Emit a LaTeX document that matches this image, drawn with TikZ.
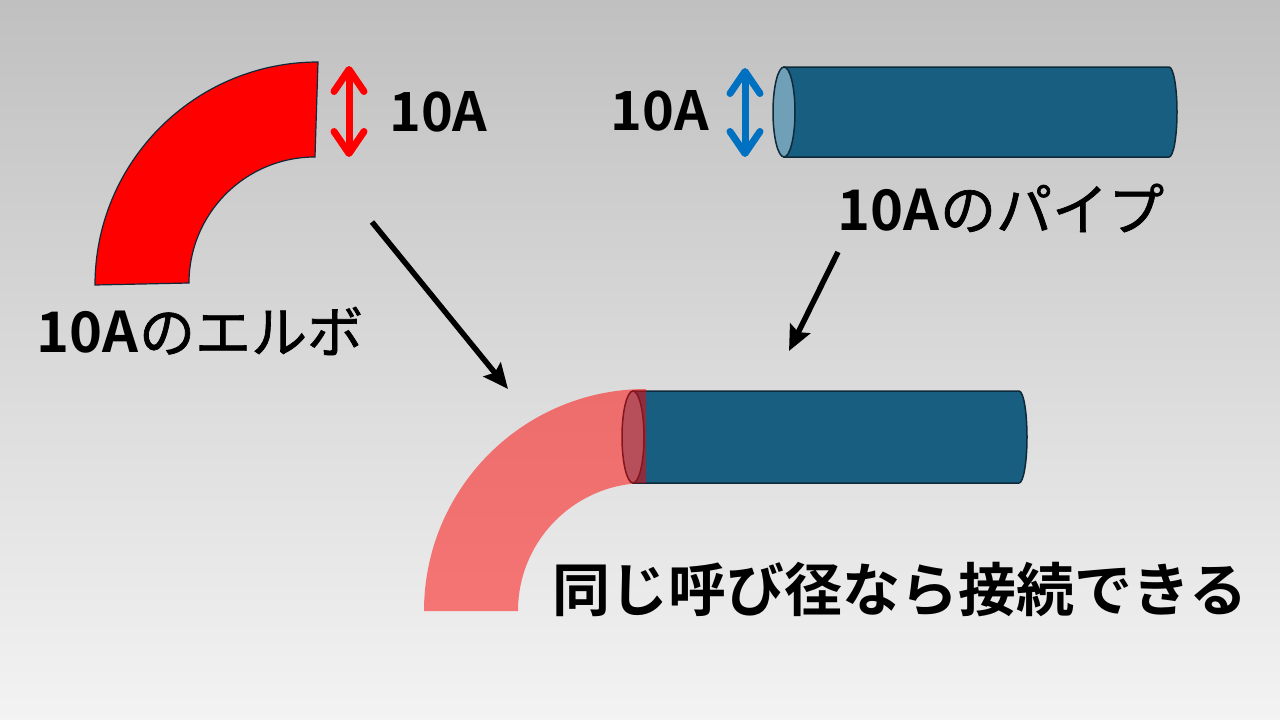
\documentclass[tikz,border=0pt]{standalone}
\usepackage{fontspec}
\setmainfont{Noto Sans CJK JP}[BoldFont={Noto Sans CJK JP Bold}]
\newfontface\kanamid{Noto Sans CJK JP}[FakeBold=1.2]
\usetikzlibrary{arrows.meta, positioning}

\definecolor{pipeblue}{RGB}{23,94,128}
\definecolor{pipecap}{RGB}{112,160,184}
\definecolor{pipeline}{RGB}{14,42,58}
\definecolor{sizeblue}{RGB}{0,112,192}

\tikzset{
	nametag/.style={font=\fontsize{56}{60}\selectfont, inner sep=0pt},
	dimtag/.style={font=\fontsize{54}{58}\selectfont\bfseries, inner sep=0pt},
	pipebody/.style={fill=pipeblue, draw=pipeline, line width=1.5pt},
	pipeend/.style={fill=pipecap, draw=pipeline, line width=1.5pt},
	diaarrow/.style={line width=7pt, {Straight Barb[length=22pt,width=30pt,round]}-{Straight Barb[length=22pt,width=30pt,round]}},
	fitarrow/.style={line width=5.5pt, -{Stealth[length=25pt,width=22pt,inset=4pt]}}
}

\begin{document}
\begin{tikzpicture}[x=1pt, y=-1pt]
	\shade[top color={rgb,255:red,192;green,192;blue,192}, bottom color={rgb,255:red,243;green,243;blue,243}]
		(0,0) rectangle (1280,720);
	\useasboundingbox (0,0) rectangle (1280,720);

	% elbow
	\draw[fill=red, draw=pipeline, line width=1.2pt]
		(95,285) arc[start angle=180, end angle=270, radius=223] -- (315,157)
		arc[start angle=270, end angle=180, radius=126] -- cycle;
	\coordinate (d1) at (349,66);
	\coordinate (d2) at (349,157);
	\draw[diaarrow, red] (d1) -- (d2);
	\node[dimtag, right=40pt of d1, yshift=-46pt] (s1) {10A};
	\node[nametag] (elbow) at (200,331) {\textbf{10A}{\kanamid のエルボ}};

	% pipe
	\draw[pipebody] (784,67) -- (1169,67) arc[start angle=270, end angle=450, x radius=8, y radius=45]
		-- (784,157) -- cycle;
	\draw[pipeend] (784,112) ellipse[x radius=11, y radius=45];
	\coordinate (d3) at (745,68);
	\coordinate (d4) at (745,157);
	\draw[diaarrow, sizeblue] (d3) -- (d4);
	\node[dimtag, left=36pt of d3, yshift=-43pt] (s2) {10A};
	\node[nametag] (pipe) at (1001,208) {\textbf{10A}{\kanamid のパイプ}};

	% joined
	\draw[pipebody] (633,391) -- (1019,391) arc[start angle=270, end angle=450, x radius=8, y radius=46]
		-- (633,483) -- cycle;
	\draw[pipeend] (633,437) ellipse[x radius=11, y radius=46];
	\fill[red, opacity=0.5]
		(424,611) arc[start angle=180, end angle=270, radius=222] -- (646,483)
		arc[start angle=270, end angle=180, radius=128] -- cycle;
	\node[nametag, font=\fontsize{58}{62}\selectfont\bfseries] (same) at (900,590) {同じ呼び径なら接続できる};

	\coordinate (a1) at (372,222);
	\coordinate (a2) at (508,389);
	\coordinate (b1) at (838,252);
	\coordinate (b2) at (789,351);
	\draw[fitarrow] (a1) -- (a2);
	\draw[fitarrow] (b1) -- (b2);
\end{tikzpicture}
\end{document}
